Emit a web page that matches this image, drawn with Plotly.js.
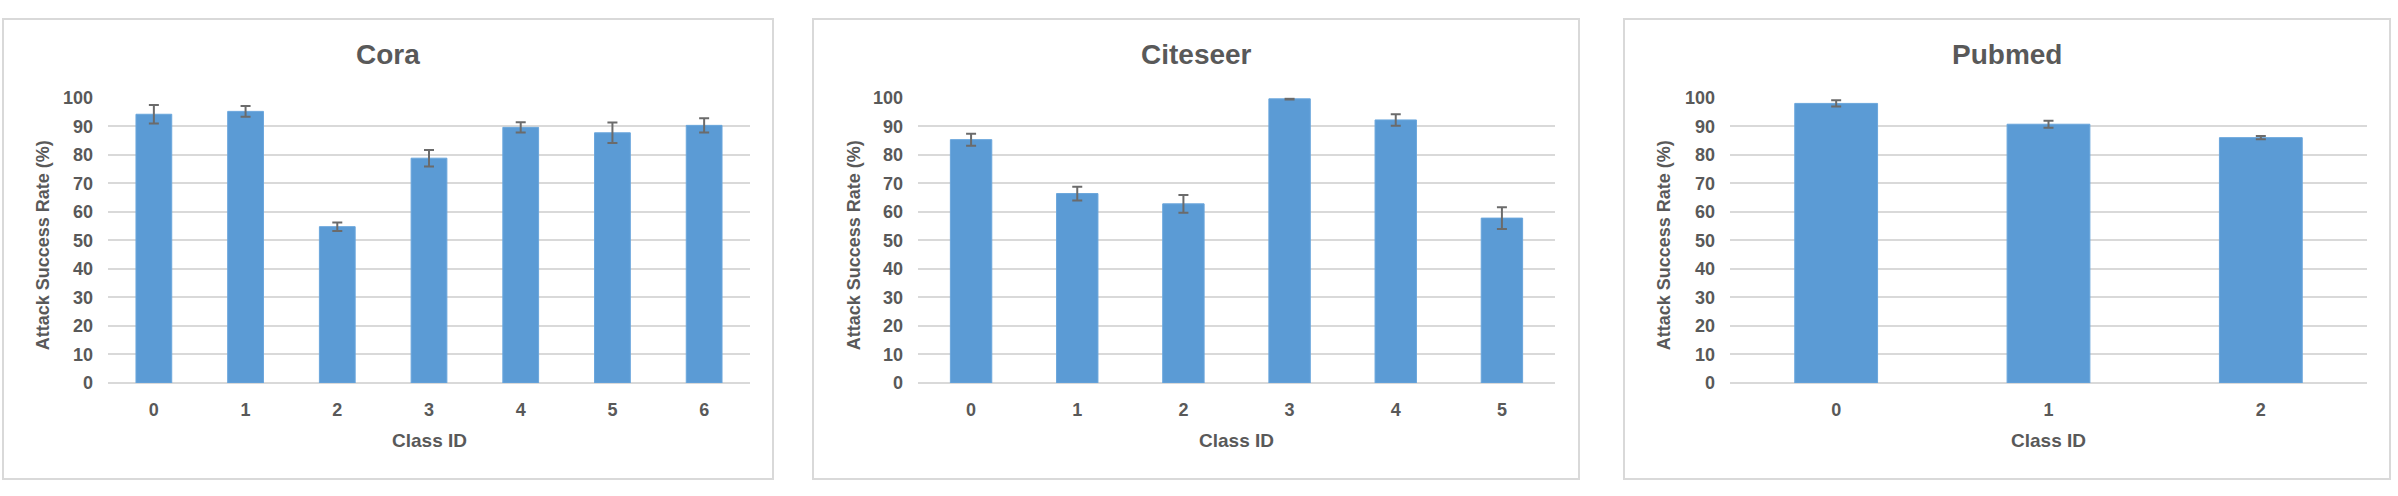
<!DOCTYPE html>
<html>
<head>
<meta charset="utf-8">
<script src="https://cdn.plot.ly/plotly-3.0.1.min.js"></script>
<style>
  body { margin: 0; padding: 0; background: #ffffff; }
  #attack_plot { width: 2398px; height: 496px; }
</style>
</head>
<body>
<div id="attack_plot"></div>
<script>
// values (attack success rate, %, with error bar half-widths)
var cora_classes = ['0', '1', '2', '3', '4', '5', '6'];
var cora_rate = [94.2, 95.2, 54.8, 78.8, 89.6, 87.7, 90.3];
var cora_err = [3.2, 1.9, 1.5, 2.9, 1.8, 3.6, 2.5];

var citeseer_classes = ['0', '1', '2', '3', '4', '5'];
var citeseer_rate = [85.3, 66.4, 62.8, 99.6, 92.2, 57.8];
var citeseer_err = [2.1, 2.4, 3.1, 0.2, 2.0, 3.8];

var pubmed_classes = ['0', '1', '2'];
var pubmed_rate = [98.0, 90.7, 86.0];
var pubmed_err = [1.1, 1.2, 0.6];

var panel_titles = ['Cora', 'Citeseer', 'Pubmed'];
var y_ticks = [0, 10, 20, 30, 40, 50, 60, 70, 80, 90, 100];

var W = 2398, H = 496;
var font_family = '"Liberation Sans Narrow", "Liberation Sans", Arial, sans-serif';
var grey = '#595959';

function px_x(p) { return p / W; }
function px_y(p) { return 1 - p / H; }

function bar_trace(xs, ys, errs, n) {
    var suffix = n == 1 ? '' : n;
    return {
	type : 'bar',
	x : xs,
	y : ys,
	xaxis : 'x' + suffix,
	yaxis : 'y' + suffix,
	marker : { color : '#5b9bd5', line : { color : '#6aa6dc', width : 1 } },
	error_y : { type : 'data', array : errs, visible : true,
		    color : '#6b6b6b', thickness : 2, width : 5 },
	showlegend : false,
	hoverinfo : 'none'
    };
}

var data = [
    bar_trace(cora_classes, cora_rate, cora_err, 1),
    bar_trace(citeseer_classes, citeseer_rate, citeseer_err, 2),
    bar_trace(pubmed_classes, pubmed_rate, pubmed_err, 3)
];

// pixel geometry of the three panels: [box left, box right, plot left, plot right, y title x]
var panels = [
    [3, 773, 108, 750, 43],
    [813, 1579, 918, 1555, 854],
    [1624, 2390, 1730, 2367, 1664]
];
var plot_top = 97.7, plot_bottom = 383;

var tick_font = { family : font_family, size : 18, color : grey, weight : 'bold' };

var layout = {
    width : W,
    height : H,
    margin : { l : 0, r : 0, t : 0, b : 0, pad : 0 },
    paper_bgcolor : '#ffffff',
    plot_bgcolor : '#ffffff',
    bargap : 0.61,
    shapes : [],
    annotations : []
};

for (let i = 0; i < panels.length; i++) {
    var p = panels[i];
    var suffix = i == 0 ? '' : (i + 1);
    layout['xaxis' + suffix] = {
	type : 'category',
	domain : [px_x(p[2]), px_x(p[3])],
	anchor : 'y' + suffix,
	showgrid : false,
	showline : false,
	ticks : '',
	ticklabelstandoff : 14,
	tickfont : tick_font,
	fixedrange : true
    };
    layout['yaxis' + suffix] = {
	domain : [px_y(plot_bottom), px_y(plot_top)],
	anchor : 'x' + suffix,
	range : [0, 100],
	tickvals : y_ticks,
	showgrid : true,
	gridcolor : '#d9d9d9',
	gridwidth : 2,
	zeroline : true,
	zerolinecolor : '#d9d9d9',
	zerolinewidth : 2,
	showline : false,
	ticks : '',
	ticklabelstandoff : 14,
	tickfont : tick_font,
	fixedrange : true
    };
    // chart area border
    layout.shapes.push({
	type : 'rect', xref : 'paper', yref : 'paper', layer : 'below',
	x0 : px_x(p[0]), x1 : px_x(p[1]), y0 : px_y(479), y1 : px_y(19),
	line : { color : '#d9d9d9', width : 2 }
    });
    // panel title
    layout.annotations.push({
	text : panel_titles[i], xref : 'paper', yref : 'paper',
	x : px_x((p[0] + p[1]) / 2), y : px_y(55), xanchor : 'center', yanchor : 'middle',
	showarrow : false,
	font : { family : font_family, size : 28, color : grey, weight : 'bold' }
    });
    // x axis title
    layout.annotations.push({
	text : 'Class ID', xref : 'paper', yref : 'paper',
	x : px_x((p[2] + p[3]) / 2), y : px_y(440), xanchor : 'center', yanchor : 'middle',
	showarrow : false,
	font : { family : font_family, size : 19, color : grey, weight : 'bold' }
    });
    // y axis title
    layout.annotations.push({
	text : 'Attack Success Rate (%)', xref : 'paper', yref : 'paper',
	x : px_x(p[4]), y : px_y((plot_top + plot_bottom) / 2 + 5), xanchor : 'center', yanchor : 'middle',
	textangle : -90,
	showarrow : false,
	font : { family : font_family, size : 18, color : grey, weight : 'bold' }
    });
}

Plotly.newPlot('attack_plot', data, layout, { displayModeBar : false, staticPlot : true });
</script>
</body>
</html>
